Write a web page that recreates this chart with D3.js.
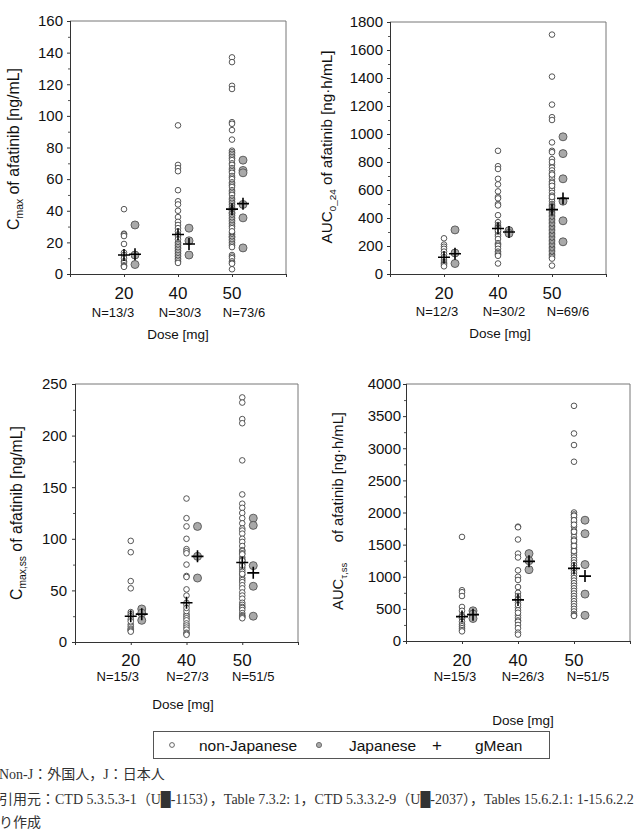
<!DOCTYPE html>
<html><head><meta charset="utf-8">
<script src="https://cdn.jsdelivr.net/npm/d3@7"></script>
<style>
body{margin:0;background:#fff;}
svg{display:block;}
</style></head>
<body>
<svg id="chart" width="634" height="831"></svg>
<script>
// ---------- DATA ----------
const doses = ["20", "40", "50"];

// Panel A: Cmax (single dose)
const cmaxNonJ = [
  [41, 25.5, 25, 24, 19, 13.5, 12, 10, 8, 7, 5.5, 5, 4.5],
  [94, 69, 67, 65, 53, 46, 44, 40, 36, 33, 31, 29, 27, 25, 24, 22, 20, 19, 18, 17, 16, 15, 14, 13, 12, 11, 10, 9, 8, 7],
  [137, 134, 119, 117, 96, 95, 91, 85, 78, 77, 76, 75, 74, 73, 72, 70, 69, 67, 66, 65, 64, 62, 61, 60, 58, 57, 56, 55,
   53, 52, 51, 50, 48, 47, 46, 45, 44, 43, 42, 41, 40.5, 40, 39, 38.5, 38, 37, 36, 35, 34, 33, 32, 31, 30, 29, 26, 25,
   24, 23.5, 23, 22, 21, 20, 19, 18, 17, 12, 11, 10, 8, 7, 6.5, 3, 27]
];
const cmaxJ = [[31, 12, 6], [29, 21, 12], [72, 65.5, 64, 44, 35.5, 16.5]];
const cmaxGmeanNonJ = [12, 25, 41];
const cmaxGmeanJ = [12.5, 19, 44.5];
const cmaxN = ["N=13/3", "N=30/3", "N=73/6"];
const cmaxTicks = [0, 20, 40, 60, 80, 100, 120, 140, 160];

// Panel B: AUC0_24 (single dose)
const aucNonJ = [
  [255, 210, 195, 180, 160, 140, 120, 100, 85, 75, 65, 55],
  [880, 770, 750, 680, 640, 590, 550, 540, 500, 490, 420, 370, 350, 340, 330, 320, 300, 280, 270, 250, 220, 210, 200,
   180, 160, 150, 140, 130, 75, 310],
  [1710, 1410, 1210, 1120, 1100, 940, 880, 870, 820, 780, 760, 740, 720, 700, 680, 660, 640, 620, 600, 580, 560, 540,
   520, 500, 490, 480, 470, 460, 450, 440, 430, 420, 410, 400, 390, 380, 370, 360, 350, 340, 330, 320, 310, 300, 290,
   280, 270, 260, 250, 240, 230, 220, 210, 200, 190, 180, 170, 160, 150, 140, 130, 120, 110, 60, 650, 550, 800, 710, 630]
];
const aucJ = [[315, 150, 75], [310, 290], [980, 860, 680, 520, 380, 230]];
const aucGmeanNonJ = [120, 325, 460];
const aucGmeanJ = [145, 300, 540];
const aucN = ["N=12/3", "N=30/2", "N=69/6"];
const aucTicks = [0, 200, 400, 600, 800, 1000, 1200, 1400, 1600, 1800];

// Panel C: Cmax,ss (steady state)
const cmaxssNonJ = [
  [98, 87, 59, 52, 29, 27, 25, 22, 17, 15, 13, 12, 11, 10, 20],
  [139, 120, 112, 100, 90, 88, 86, 75, 64, 63, 51, 45, 38, 36, 27, 25, 23, 21, 18, 16, 14, 12, 9, 8, 7, 30, 33],
  [237, 232, 216, 212, 176, 143, 134, 130, 125, 120, 115, 110, 108, 105, 100, 97, 93, 89, 88, 86, 82, 80, 78, 77, 75,
   72, 70, 68, 65, 62, 60, 58, 55, 52, 48, 45, 42, 38, 36, 34, 33, 31, 28, 26, 25, 24, 23, 85, 79, 74, 66]
];
const cmaxssJ = [[32, 28, 21], [112, 83, 62], [120, 113, 74, 54, 25]];
const cmaxssGmeanNonJ = [25, 38, 77];
const cmaxssGmeanJ = [27, 83, 67];
const cmaxssN = ["N=15/3", "N=27/3", "N=51/5"];
const cmaxssTicks = [0, 50, 100, 150, 200, 250];

// Panel D: AUCtau,ss (steady state)
const aucssNonJ = [
  [1620, 790, 760, 700, 530, 470, 400, 350, 300, 260, 230, 200, 170, 150, 380],
  [1780, 1770, 1580, 1360, 1300, 1100, 1000, 950, 840, 750, 700, 660, 600, 520, 480, 400, 360, 320, 300, 250, 200,
   130, 100, 560, 640, 440],
  [3660, 3230, 3050, 2790, 2000, 1970, 1920, 1850, 1780, 1720, 1680, 1620, 1580, 1540, 1500, 1460, 1420, 1380, 1340,
   1300, 1260, 1220, 1180, 1140, 1100, 1060, 1020, 980, 940, 900, 860, 820, 780, 740, 700, 660, 620, 580, 540, 500,
   460, 420, 400, 390, 1950, 1880, 1810, 1700, 1560, 1480, 1400]
];
const aucssJ = [[470, 420, 350], [1360, 1250, 1110], [1880, 1670, 1190, 730, 400]];
const aucssGmeanNonJ = [380, 640, 1130];
const aucssGmeanJ = [410, 1240, 1010];
const aucssN = ["N=15/3", "N=26/3", "N=51/5"];
const aucssTicks = [0, 500, 1000, 1500, 2000, 2500, 3000, 3500, 4000];

const legendLabels = ["non-Japanese", "Japanese", "gMean"];
const noteLines = [
  "Non-J：外国人，J：日本人",
  "引用元：CTD 5.3.5.3-1（U█-1153），Table 7.3.2: 1，CTD 5.3.3.2-9（U█-2037），Tables 15.6.2.1: 1-15.6.2.2",
  "り作成"
];

// ---------- DRAW ----------
const svg = d3.select("#chart");
const FONT = "'Liberation Sans', Arial, sans-serif";

function panel(cfg) {
  const g = svg.append("g");
  const x = d3.scaleLinear().domain([0, 4]).range([cfg.x0, cfg.x1]);
  const y = d3.scaleLinear().domain([0, cfg.ticks[cfg.ticks.length - 1]]).range([cfg.yb, cfg.yt]);
  const step = cfg.ticks[1] - cfg.ticks[0];
  const minor = [];
  for (let i = 0; i < cfg.ticks.length - 1; i++) minor.push(cfg.ticks[i] + step / 2);

  // frame (top and right)
  g.append("path")
    .attr("d", `M${cfg.x0},${cfg.yt}H${cfg.x1}V${cfg.yb}`)
    .attr("fill", "none").attr("stroke", "#777").attr("stroke-width", 1);

  // minor y ticks
  g.append("g").attr("transform", `translate(${cfg.x0},0)`)
    .call(d3.axisLeft(y).tickValues(minor).tickSize(2).tickFormat(""))
    .call(s => s.select(".domain").remove())
    .selectAll("line").attr("stroke", "#555");

  // major y axis
  const ya = g.append("g").attr("transform", `translate(${cfg.x0},0)`)
    .call(d3.axisLeft(y).tickValues(cfg.ticks).tickSize(3).tickPadding(cfg.tickPad).tickFormat(d3.format("d")));
  ya.select(".domain").attr("stroke", "#333").attr("d", `M0.5,${cfg.yt}V${cfg.yb}`);
  ya.selectAll("line").attr("stroke", "#333");
  ya.selectAll("text").attr("font-family", FONT).attr("font-size", 15).attr("fill", "#111");

  // x axis (bottom)
  const xa = g.append("g").attr("transform", `translate(0,${cfg.yb})`)
    .call(d3.axisBottom(x).tickValues([0, 1, 2, 3, 4]).tickSize(3).tickFormat(""));
  xa.select(".domain").attr("stroke", "#333").attr("d", `M${cfg.x0},0.5H${cfg.x1}`);
  xa.selectAll("line").attr("stroke", "#333");

  // dose labels
  g.selectAll(".dose").data(doses).enter().append("text")
    .attr("x", (d, i) => x(i + 1)).attr("y", cfg.doseY)
    .attr("text-anchor", "middle").attr("font-family", FONT).attr("font-size", 17).attr("fill", "#111")
    .text(d => d);
  g.selectAll(".nlab").data(cfg.nLabels).enter().append("text")
    .attr("x", (d, i) => x(i + 1) + cfg.nShift[i]).attr("y", cfg.nY)
    .attr("text-anchor", "middle").attr("font-family", FONT).attr("font-size", 13).attr("fill", "#111")
    .text(d => d);
  g.append("text").attr("x", cfg.xlabX).attr("y", cfg.xlabY)
    .attr("text-anchor", "middle").attr("font-family", FONT).attr("font-size", 13.5).attr("fill", "#111")
    .text("Dose [mg]");

  // y label, sized so that it spans the same length as in the reference
  const base = 15, subRatio = 0.65;
  const yl = g.append("text")
    .attr("transform", `translate(${cfg.ylabX},${cfg.ylabY}) rotate(-90)`)
    .attr("text-anchor", "middle").attr("font-family", FONT).attr("font-size", base).attr("fill", "#111");
  yl.append("tspan").text(cfg.ylab[0]);
  const sub = yl.append("tspan").attr("font-size", base * subRatio).attr("dy", 4).text(cfg.ylab[1]);
  const rest = yl.append("tspan").attr("dy", -4).text(cfg.ylab[2]);
  const len = yl.node().getComputedTextLength();
  const f = cfg.ylabLen / len;
  const fs = Math.max(11, Math.min(17, base * f));
  yl.attr("font-size", fs);
  sub.attr("font-size", fs * subRatio).attr("dy", fs * 0.28);
  rest.attr("dy", -fs * 0.28);

  const off = cfg.jOff;
  // non-Japanese points
  cfg.nonJ.forEach((arr, i) => {
    g.selectAll(null).data(arr).enter().append("circle")
      .attr("cx", x(i + 1)).attr("cy", d => y(d)).attr("r", 2.8)
      .attr("fill", "#fff").attr("stroke", "#444").attr("stroke-width", 0.9);
  });
  // Japanese points
  cfg.j.forEach((arr, i) => {
    g.selectAll(null).data(arr).enter().append("circle")
      .attr("cx", x(i + 1) + off).attr("cy", d => y(d)).attr("r", 4)
      .attr("fill", "#a9a9a9").attr("stroke", "#555").attr("stroke-width", 0.9);
  });
  // gMean crosses
  const cross = (cx, cy) => `M${cx - 6},${cy}H${cx + 6}M${cx},${cy - 6}V${cy + 6}`;
  cfg.gNonJ.forEach((v, i) => {
    g.append("path").attr("d", cross(x(i + 1), y(v))).attr("stroke", "#000").attr("stroke-width", 1.6);
  });
  cfg.gJ.forEach((v, i) => {
    g.append("path").attr("d", cross(x(i + 1) + off, y(v))).attr("stroke", "#000").attr("stroke-width", 1.6);
  });
}

panel({
  x0: 70, x1: 286, yt: 21, yb: 274, ticks: cmaxTicks, tickPad: 4,
  nonJ: cmaxNonJ, j: cmaxJ, gNonJ: cmaxGmeanNonJ, gJ: cmaxGmeanJ, jOff: 11,
  nLabels: cmaxN, nShift: [-11, 2, 12], doseY: 299, nY: 317, xlabX: 178, xlabY: 339,
  ylab: ["C", "max", " of afatinib [ng/mL]"], ylabX: 19, ylabY: 149, ylabLen: 162
});
panel({
  x0: 390, x1: 606, yt: 22, yb: 274, ticks: aucTicks, tickPad: 4,
  nonJ: aucNonJ, j: aucJ, gNonJ: aucGmeanNonJ, gJ: aucGmeanJ, jOff: 11,
  nLabels: aucN, nShift: [-7, 6, 16], doseY: 299, nY: 316, xlabX: 500, xlabY: 338,
  ylab: ["AUC", "0_24", " of afatinib [ng·h/mL]"], ylabX: 332, ylabY: 147, ylabLen: 193
});
panel({
  x0: 75, x1: 298, yt: 384, yb: 642, ticks: cmaxssTicks, tickPad: 5,
  nonJ: cmaxssNonJ, j: cmaxssJ, gNonJ: cmaxssGmeanNonJ, gJ: cmaxssGmeanJ, jOff: 11,
  nLabels: cmaxssN, nShift: [-13, 1, 11], doseY: 666, nY: 681, xlabX: 183, xlabY: 709,
  ylab: ["C", "max,ss", " of afatinib [ng/mL]"], ylabX: 22, ylabY: 513, ylabLen: 174
});
panel({
  x0: 406, x1: 630, yt: 384, yb: 641, ticks: aucssTicks, tickPad: 2,
  nonJ: aucssNonJ, j: aucssJ, gNonJ: aucssGmeanNonJ, gJ: aucssGmeanJ, jOff: 11,
  nLabels: aucssN, nShift: [-7, 5, 14], doseY: 666, nY: 681, xlabX: 523, xlabY: 725,
  ylab: ["AUC", "τ,ss", "\u00a0\u00a0\u00a0\u00a0 of afatinib [ng·h/mL]"], ylabX: 343, ylabY: 511, ylabLen: 198
});

// ---------- LEGEND ----------
const lg = svg.append("g");
lg.append("rect").attr("x", 153.5).attr("y", 731.5).attr("width", 396).attr("height", 27)
  .attr("fill", "#fff").attr("stroke", "#555").attr("stroke-width", 1);
lg.append("circle").attr("cx", 172).attr("cy", 745).attr("r", 2.4)
  .attr("fill", "#fff").attr("stroke", "#555").attr("stroke-width", 0.9);
lg.append("circle").attr("cx", 319).attr("cy", 745).attr("r", 2.6)
  .attr("fill", "#a9a9a9").attr("stroke", "#666").attr("stroke-width", 0.9);
lg.append("text").attr("x", 437).attr("y", 751).attr("text-anchor", "middle")
  .attr("font-family", FONT).attr("font-size", 17).attr("fill", "#111").text("+");
const legX = [199, 349, 475];
lg.selectAll(".lt").data(legendLabels).enter().append("text")
  .attr("x", (d, i) => legX[i]).attr("y", 751)
  .attr("font-family", FONT).attr("font-size", 15.5).attr("fill", "#111").text(d => d);

// ---------- NOTES ----------
const noteY = [779, 804, 827];
svg.selectAll(".note").data(noteLines).enter().append("text")
  .attr("x", -1).attr("y", (d, i) => noteY[i])
  .attr("font-family", "'Liberation Serif', 'Noto Sans CJK JP', serif").attr("font-size", 14)
  .attr("fill", "#333").text(d => d);
</script>
</body></html>
